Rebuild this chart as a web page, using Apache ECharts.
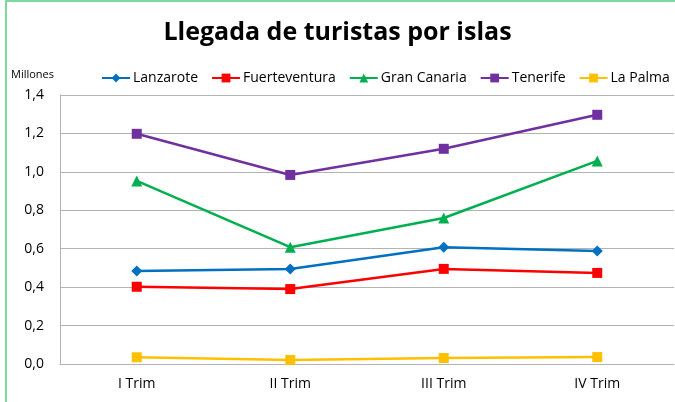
<!DOCTYPE html>
<html>
<head>
    <meta charset="utf-8">
    <title>Llegada de turistas</title>
    <style>
        html, body { margin: 0; padding: 0; background: #fff; }
    </style>
</head>
<body>
<div id="chart" style="width: 675px;height:402px;"></div>
<script src="https://cdn.jsdelivr.net/npm/echarts@6/dist/echarts.min.js"></script>
<script type="text/javascript">
    // datos en millones
    var trimestres = ['I Trim', 'II Trim', 'III Trim', 'IV Trim'];
    var lanzarote = [0.484, 0.495, 0.608, 0.588];
    var fuerteventura = [0.402, 0.390, 0.495, 0.474];
    var granCanaria = [0.953, 0.608, 0.760, 1.057];
    var tenerife = [1.198, 0.984, 1.120, 1.297];
    var laPalma = [0.035, 0.021, 0.031, 0.036];

    var font = 'Open Sans';
    var chart = echarts.init(document.getElementById('chart'));

    function serie(nombre, datos, color, simbolo, tam) {
        return {
            name: nombre,
            type: 'line',
            data: datos,
            symbol: simbolo,
            symbolSize: tam,
            lineStyle: { color: color, width: 2.5 },
            itemStyle: { color: color },
            animation: false
        };
    }

    var option = {
        title: {
            text: 'Llegada de turistas por islas',
            left: 'center',
            top: 15,
            textStyle: { fontFamily: font, fontSize: 25, fontWeight: 'bold', color: '#000' }
        },
        graphic: [{
            type: 'rect',
            shape: { x: 6, y: 1, width: 700, height: 420 },
            style: { fill: 'none', stroke: '#7fd6a0', lineWidth: 2 },
            silent: true
        }, {
            type: 'text',
            left: 11,
            top: 69,
            style: { text: 'Millones', font: '11px "Open Sans"', fill: '#000' }
        }],
        legend: {
            top: 66,
            left: 96,
            itemWidth: 28,
            itemHeight: 11,
            itemGap: 13,
            textStyle: { fontFamily: font, fontSize: 14, color: '#000', padding: [0, 0, 0, -2] },
            data: ['Lanzarote', 'Fuerteventura', 'Gran Canaria', 'Tenerife', 'La Palma']
        },
        grid: { left: 60, right: 1, top: 95, bottom: 38 },
        xAxis: {
            type: 'category',
            data: trimestres,
            axisLine: { lineStyle: { color: '#b3b3b3', width: 1 } },
            axisTick: { show: false },
            axisLabel: { fontFamily: font, fontSize: 14, color: '#000', margin: 13 }
        },
        yAxis: {
            type: 'value',
            min: 0,
            max: 1.4,
            interval: 0.2,
            axisLine: { show: true, lineStyle: { color: '#b3b3b3', width: 1 } },
            axisTick: { show: false },
            splitLine: { lineStyle: { color: '#b3b3b3', width: 1 } },
            axisLabel: {
                fontFamily: font, fontSize: 14, color: '#000', margin: 16,
                formatter: function (v) { return v.toFixed(1).replace('.', ','); }
            }
        },
        series: [
            serie('Lanzarote', lanzarote, '#0070C0', 'diamond', 11),
            serie('Fuerteventura', fuerteventura, '#FF0000', 'rect', 10),
            serie('Gran Canaria', granCanaria, '#00B050', 'triangle', 11),
            serie('Tenerife', tenerife, '#7030A0', 'rect', 10),
            serie('La Palma', laPalma, '#FFC000', 'rect', 10)
        ]
    };
    chart.setOption(option);
</script>
</body>
</html>
